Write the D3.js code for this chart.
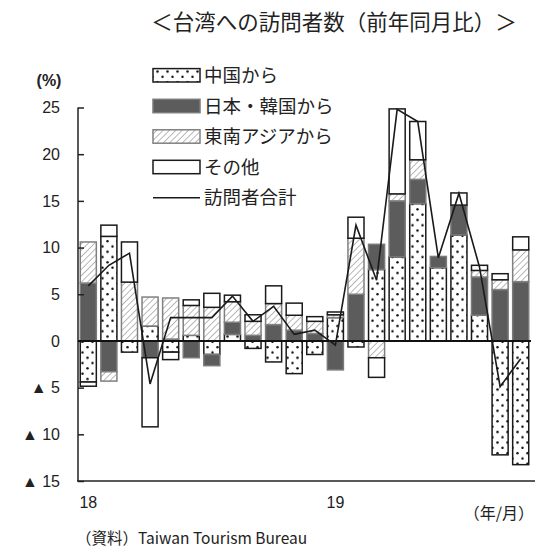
<!DOCTYPE html>
<html>
<head>
<meta charset="utf-8">
<script src="https://cdn.jsdelivr.net/npm/d3@7"></script>
<style>
  html, body { margin: 0; padding: 0; background: #fff; }
  svg { display: block; }
  text { fill: #222; }
  .jp { font-family: "Noto Sans CJK JP", "Noto Sans", sans-serif; }
  .num { font-family: "Liberation Sans", Arial, sans-serif; }
</style>
</head>
<body>
<svg id="chart" width="550" height="549"></svg>
<script>
// Monthly year-on-year change in visitors to Taiwan, Jan 2018 – Oct 2019 (%)
const months = ["18/1","18/2","18/3","18/4","18/5","18/6","18/7","18/8","18/9","18/10","18/11","18/12",
                "19/1","19/2","19/3","19/4","19/5","19/6","19/7","19/8","19/9","19/10"];
const china      = [-4.4, 11.2, -1.2, 1.6, -1.2, 0.6, -1.45, 0.7, -0.8, -2.25, -3.5, -1.45,
                    2.5, -0.65, 7.65, 9.0, 14.7, 7.85, 11.35, 2.75, -12.2, -13.25];
const japanKorea = [6.2, -3.3, 0, -1.8, 0.2, -1.8, -1.2, 1.3, 0.6, 1.75, 1.15, 0.8,
                    -3.1, 5.0, 2.7, 6.0, 2.6, 1.2, 3.2, 4.1, 5.5, 6.35];
const seAsia     = [4.4, -1.0, 6.3, 3.1, 4.4, 3.2, 3.6, 2.2, 1.5, 2.25, 1.6, 1.3,
                    0.3, 6.0, -1.8, 0.75, 2.1, 0, 0, 0.7, 1.05, 3.4];
const others     = [-0.45, 1.2, 4.3, -7.4, -0.8, 0.6, 1.5, 0.7, 0.7, 1.9, 1.3, 0.5,
                    0.3, 2.25, -2.1, 9.1, 4.1, 0, 1.3, 0.55, 0.65, 1.4];
const total      = [5.9, 8.1, 9.4, -4.6, 2.5, 2.5, 2.5, 4.8, 2.1, 3.7, 0.7, 1.15,
                    -0.45, 12.4, 6.5, 24.8, 23.5, 8.9, 15.8, 7.9, -4.9, -1.9];
const yTicks = [25, 20, 15, 10, 5, 0, -5, -10, -15];
const xLabels = {"18/1": "18", "19/1": "19"};
const seriesNames = ["中国から", "日本・韓国から", "東南アジアから", "その他"];
const totalName = "訪問者合計";

const svg = d3.select("#chart");

// fill patterns
const defs = svg.append("defs");
const dots = defs.append("pattern").attr("id", "dots")
  .attr("patternUnits", "userSpaceOnUse").attr("width", 10).attr("height", 10.6);
dots.append("rect").attr("width", 10).attr("height", 10.6).attr("fill", "#fff");
dots.append("circle").attr("cx", 2.5).attr("cy", 2.6).attr("r", 1.25).attr("fill", "#111");
dots.append("circle").attr("cx", 7.5).attr("cy", 7.9).attr("r", 1.25).attr("fill", "#111");

const hatch = defs.append("pattern").attr("id", "hatch")
  .attr("patternUnits", "userSpaceOnUse").attr("width", 4.5).attr("height", 4.5)
  .attr("patternTransform", "rotate(45)");
hatch.append("rect").attr("width", 4.5).attr("height", 4.5).attr("fill", "#fff");
hatch.append("line").attr("x1", 0).attr("y1", 0).attr("x2", 0).attr("y2", 4.5)
  .attr("stroke", "#8a8a8a").attr("stroke-width", 1.2);

const styles = [
  {fill: "url(#dots)", stroke: "#1a1a1a"},
  {fill: "#5c5c5c", stroke: "#7a7a7a"},
  {fill: "url(#hatch)", stroke: "#808080"},
  {fill: "#fff", stroke: "#1a1a1a"}
];

// scales
const x = d3.scaleBand().domain(months).range([78, 531]).paddingInner(0.22).paddingOuter(0.11);
const y = d3.scaleLinear().domain([-15, 25]).range([481, 107.5]);

// stacked data
const table = months.map((m, i) => ({month: m, s0: china[i], s1: japanKorea[i], s2: seAsia[i], s3: others[i]}));
const keys = ["s0", "s1", "s2", "s3"];
const stacked = d3.stack().keys(keys).offset(d3.stackOffsetDiverging)(table);

// title
svg.append("text").attr("class", "jp").attr("x", 334).attr("y", 30)
  .attr("text-anchor", "middle").attr("font-size", 21.5).text("＜台湾への訪問者数（前年同月比）＞");

// bars
const gBars = svg.append("g");
stacked.forEach((layer, k) => {
  gBars.append("g")
    .selectAll("rect").data(layer.filter(d => d[1] !== d[0]))
    .join("rect")
    .attr("x", d => x(d.data.month))
    .attr("width", x.bandwidth())
    .attr("y", d => y(Math.max(d[0], d[1])))
    .attr("height", d => Math.abs(y(d[0]) - y(d[1])))
    .attr("fill", styles[k].fill)
    .attr("stroke", styles[k].stroke)
    .attr("stroke-width", 1.5);
});

// left axis
const yAxis = d3.axisLeft(y).tickValues(yTicks).tickSize(-6).tickPadding(18)
  .tickFormat(d => d < 0 ? "▲ " + Math.abs(d) : String(d));
const gy = svg.append("g").attr("transform", "translate(78,0)").call(yAxis);
gy.select(".domain").attr("stroke", "#222").attr("stroke-width", 1.5).attr("d", `M0,${y(25)}V${y(-15)}`);
gy.selectAll(".tick line").attr("stroke", "#222").attr("stroke-width", 1.5);
gy.selectAll(".tick text").attr("class", "num").attr("font-size", 16).attr("fill", "#222");

// zero line and bottom line
svg.append("line").attr("x1", 78).attr("x2", 531).attr("y1", y(0)).attr("y2", y(0))
  .attr("stroke", "#111").attr("stroke-width", 2);
svg.append("line").attr("x1", 77).attr("x2", 535).attr("y1", y(-15)).attr("y2", y(-15))
  .attr("stroke", "#222").attr("stroke-width", 1.5);

// bottom labels
const xAxis = d3.axisBottom(x).tickSize(0).tickPadding(16)
  .tickValues(Object.keys(xLabels)).tickFormat(d => xLabels[d]);
const gx = svg.append("g").attr("transform", `translate(0,${y(-15)})`).call(xAxis);
gx.select(".domain").remove();
gx.selectAll(".tick text").attr("class", "num").attr("font-size", 16).attr("fill", "#222");

// total line
const line = d3.line().x((d, i) => x(months[i]) + x.bandwidth() / 2).y(d => y(d));
svg.append("path").datum(total).attr("d", line)
  .attr("fill", "none").attr("stroke", "#1a1a1a").attr("stroke-width", 1.6);

// legend
const legend = svg.append("g");
const rowY = [75.3, 106, 136.5, 167, 197.7];
seriesNames.forEach((name, k) => {
  legend.append("rect").attr("x", 153).attr("y", rowY[k] - 6.7).attr("width", 47).attr("height", 13.4)
    .attr("fill", styles[k].fill).attr("stroke", styles[k].stroke).attr("stroke-width", 1.5);
  legend.append("text").attr("class", "jp").attr("x", 204).attr("y", rowY[k] + 6.5)
    .attr("font-size", 18.5).text(name);
});
legend.append("line").attr("x1", 153).attr("x2", 200).attr("y1", rowY[4]).attr("y2", rowY[4])
  .attr("stroke", "#1a1a1a").attr("stroke-width", 1.6);
legend.append("text").attr("class", "jp").attr("x", 204).attr("y", rowY[4] + 6.5)
  .attr("font-size", 18.5).text(totalName);

// unit labels and source
svg.append("text").attr("class", "num").attr("x", 49).attr("y", 86).attr("text-anchor", "middle")
  .attr("font-size", 16).attr("font-weight", "bold").text("(%)");
svg.append("text").attr("class", "jp").attr("x", 534).attr("y", 519).attr("text-anchor", "end")
  .attr("font-size", 16).text("（年/月）");
svg.append("text").attr("class", "jp").attr("x", 76).attr("y", 544)
  .attr("font-size", 15.5).text("（資料）Taiwan Tourism Bureau");
</script>
</body>
</html>
